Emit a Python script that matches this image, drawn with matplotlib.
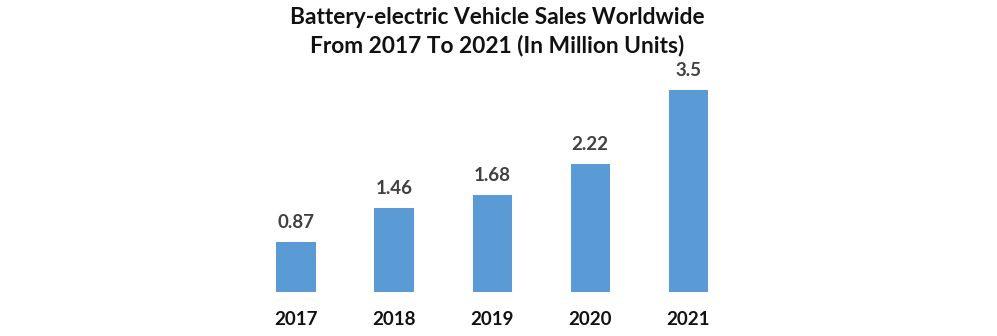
import matplotlib.pyplot as plt

years = ["2017", "2018", "2019", "2020", "2021"]
sales = [0.87, 1.46, 1.68, 2.22, 3.5]
value_labels = ["0.87", "1.46", "1.68", "2.22", "3.5"]

plt.rcParams["font.family"] = ["Lato", "DejaVu Sans"]

fig = plt.figure(figsize=(9.97, 3.36), dpi=100)
ax = fig.add_axes([0, 0.131, 1, 0.869])

positions = list(range(len(years)))
bars = ax.bar(positions, sales, width=0.4, color="#5B9BD5")

for bar, label in zip(bars, value_labels):
    ax.annotate(label, (bar.get_x() + bar.get_width() / 2, bar.get_height()),
                xytext=(0, 8), textcoords="offset points", ha="center",
                va="bottom", fontsize=13.5, fontweight="bold", color="#404040")

ax.set_xlim(-3.02, 7.15)
ax.set_ylim(0, 5.06)
ax.set_xticks(positions)
ax.set_xticklabels(years, fontsize=13.5, fontweight="bold", color="#111111")
ax.tick_params(axis="x", length=0, pad=14)
ax.set_yticks([])
for spine in ax.spines.values():
    spine.set_visible(False)

fig.text(0.499, 0.978, "Battery-electric Vehicle Sales Worldwide\nFrom 2017 To 2021 (In Million Units)",
         ha="center", va="top", fontsize=16.4, fontweight="bold",
         linespacing=1.33, color="#111111")

fig.savefig("out.png", dpi=100)
